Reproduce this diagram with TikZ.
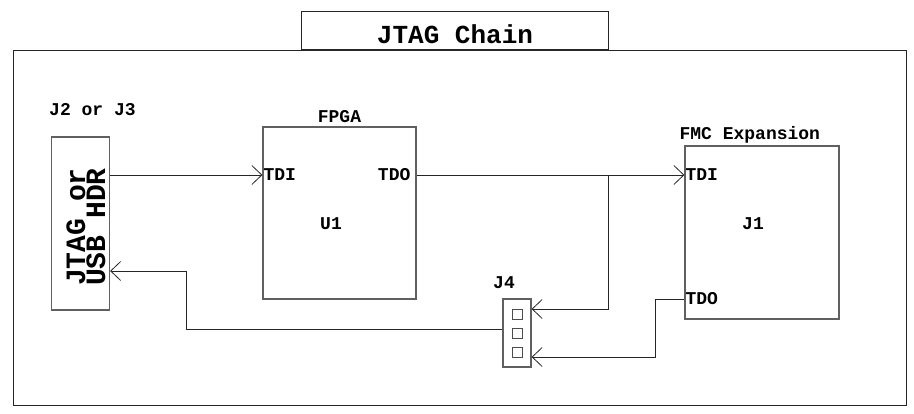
\documentclass[tikz,border=0pt]{standalone}
\usepackage{fontspec}
\setmainfont{Liberation Mono}
\usetikzlibrary{arrows.meta, positioning}

\newcommand{\hdrfont}{\fontsize{28}{20}\selectfont\bfseries\lineskiplimit=-20pt\relax}

\begin{document}
\begin{tikzpicture}[
    x=1pt, y=-1pt,
    frame/.style={
        rectangle,
        draw=black!85,
        line width=0.8pt,
        inner sep=0pt
    },
    box/.style={
        rectangle,
        draw=gray!75!black,
        line width=1.2pt,
        inner sep=0pt
    },
    pinbox/.style={
        rectangle,
        draw=gray!60!black,
        line width=0.7pt,
        minimum size=10pt,
        inner sep=0pt
    },
    tag/.style={
        font=\fontsize{18}{20}\selectfont\bfseries,
        inner sep=1pt
    },
    wire/.style={
        draw=black!85,
        line width=0.8pt
    },
    feed/.style={
        wire,
        -{Straight Barb[length=10pt, width=19pt]}
    }
]

    \useasboundingbox (0,0) rectangle (914,414);

    \coordinate (row1) at (0,175);
    \coordinate (row2) at (0,299);
    \coordinate (row3) at (0,309);
    \coordinate (row4) at (0,357);
    \coordinate (row5) at (0,329);
    \coordinate (split) at (608,175);
    \coordinate (return) at (186,271);

    \node (board) [frame, minimum width=893pt, minimum height=355pt] at (459.5,227.5) {};

    \node (title) [frame, minimum width=307pt, minimum height=38pt, anchor=south] at (454.5,50) {};

    \node (titletext) [font=\fontsize{26}{30}\selectfont\bfseries] at (455,34) {JTAG Chain};

    \node (hdr) [box, minimum width=58pt, minimum height=173pt] at (80.5,223.5) {};

    \node (hdrtext) [rotate=90, align=center, inner sep=0pt, font=\hdrfont] at (86,227) {
        JTAG or\\USB HDR
    };

    \node (hdrlbl) [tag, anchor=west] at (48,110) {J2 or J3};

    \node (fpga) [box, minimum width=153pt, minimum height=172pt] at (339.5,213) {};

    \node (fpgalbl) [tag, above=3pt of fpga] {FPGA};

    \node (u1) [tag] at (331,224) {U1};

    \node (fpgatdi) [tag, anchor=west] at (fpga.west |- row1) {TDI};

    \node (fpgatdo) [tag, anchor=east] at ([xshift=-5pt]fpga.east |- row1) {TDO};

    \node (fmc) [box, minimum width=154pt, minimum height=173pt] at (762,232.5) {};

    \node (fmclbl) [tag, anchor=south west] at ([xshift=-6pt, yshift=1pt]fmc.north west) {FMC Expansion};

    \node (j1) [tag] at (753,224) {J1};

    \node (fmctdi) [tag, anchor=west] at (fmc.west |- row1) {TDI};

    \node (fmctdo) [tag, anchor=west] at (fmc.west |- row2) {TDO};

    \node (j4) [box, minimum width=28pt, minimum height=68pt] at (517,333) {};

    \node (j4lbl) [tag] at (504,283) {J4};

    \foreach \y [count=\i] in {314,333,352}
        \node (pin\i) [pinbox] at (517,\y) {};

    \draw [feed] (hdr.east |- row1) -- (fpgatdi.west);
    \draw [feed] (fpga.east |- row1) -- (fmctdi.west);
    \draw [feed] (split) |- (j4.east |- row3);
    \draw [feed] (fmctdo.west) -- ++(-29,0) |- (j4.east |- row4);
    \draw [feed] (j4.west |- row5) -| (return) -- (hdr.east |- return);

\end{tikzpicture}
\end{document}
